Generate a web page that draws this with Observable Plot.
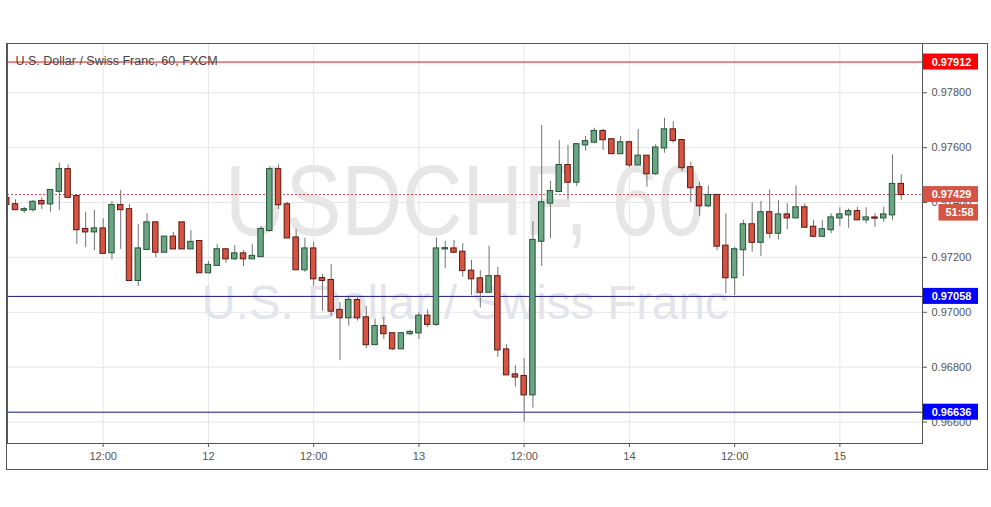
<!DOCTYPE html>
<html><head><meta charset="utf-8">
<script src="https://cdn.jsdelivr.net/npm/d3@7"></script>
<script src="https://cdn.jsdelivr.net/npm/@observablehq/plot@0.6"></script>
<style>html,body{margin:0;padding:0;background:#fff;} #chart{width:991px;height:507px;}</style>
</head><body><div id="chart"></div>
<script>
// hour slots, counted from 00:00 on day 11 (hourly candles, 60-minute chart)
const hours = [1,2,3,4,5,6,7,8,9,10,11,12,13,14,15,16,17,18,19,20,21,22,23,24,25,26,27,28,29,30,
31,32,33,34,35,36,37,38,39,40,41,42,43,44,45,46,47,48,49,50,51,52,53,54,55,56,57,58,59,60,
61,62,63,64,65,66,67,68,69,70,71,72,73,74,75,76,77,78,79,80,81,82,83,84,85,86,87,88,89,90,
91,92,93,94,95,96,97,98,99,100,101,102,103];
const open = [0.97415,0.97392,0.97372,0.97374,0.97404,0.97395,0.97441,0.97520,0.97422,0.97302,
0.97293,0.97304,0.97217,0.97389,0.97374,0.97116,0.97229,0.97326,0.97219,0.97274,
0.97326,0.97231,0.97258,0.97144,0.97171,0.97228,0.97195,0.97213,0.97195,0.97203,
0.97298,0.97520,0.97392,0.97271,0.97155,0.97231,0.97123,0.97116,0.97007,0.96980,
0.97043,0.96980,0.96882,0.96948,0.96922,0.96867,0.96922,0.96925,0.96986,0.96956,
0.97231,0.97231,0.97219,0.97150,0.97122,0.97073,0.97130,0.96863,0.96772,0.96766,
0.96699,0.97259,0.97398,0.97440,0.97535,0.97474,0.97610,0.97620,0.97659,0.97629,
0.97578,0.97618,0.97537,0.97569,0.97505,0.97599,0.97665,0.97626,0.97527,0.97454,
0.97388,0.97426,0.97241,0.97126,0.97228,0.97319,0.97255,0.97363,0.97288,0.97355,
0.97344,0.97381,0.97310,0.97277,0.97301,0.97344,0.97355,0.97367,0.97337,0.97344,
0.97344,0.97355,0.97466];
const high = [0.97418,0.97410,0.97382,0.97407,0.97417,0.97446,0.97543,0.97537,0.97429,0.97365,
0.97371,0.97341,0.97404,0.97444,0.97393,0.97320,0.97359,0.97328,0.97276,0.97291,
0.97327,0.97298,0.97262,0.97185,0.97247,0.97229,0.97243,0.97225,0.97247,0.97313,
0.97531,0.97537,0.97401,0.97302,0.97270,0.97255,0.97138,0.97174,0.97035,0.97055,
0.97059,0.97021,0.96975,0.96982,0.96922,0.96923,0.96934,0.96998,0.97009,0.97271,
0.97259,0.97262,0.97250,0.97189,0.97152,0.97241,0.97164,0.96882,0.96806,0.96831,
0.97331,0.97681,0.97477,0.97626,0.97608,0.97613,0.97641,0.97671,0.97666,0.97630,
0.97641,0.97623,0.97666,0.97570,0.97611,0.97707,0.97695,0.97627,0.97547,0.97474,
0.97460,0.97427,0.97359,0.97236,0.97335,0.97399,0.97404,0.97446,0.97407,0.97395,
0.97460,0.97395,0.97335,0.97335,0.97359,0.97381,0.97377,0.97383,0.97381,0.97359,
0.97383,0.97574,0.97501];
const low = [0.97389,0.97371,0.97360,0.97365,0.97374,0.97365,0.97371,0.97414,0.97247,0.97235,
0.97225,0.97211,0.97191,0.97229,0.97113,0.97094,0.97225,0.97199,0.97218,0.97230,
0.97230,0.97230,0.97143,0.97143,0.97171,0.97178,0.97189,0.97167,0.97194,0.97201,
0.97292,0.97375,0.97270,0.97152,0.97146,0.97095,0.97004,0.96985,0.96824,0.96949,
0.96968,0.96867,0.96881,0.96901,0.96861,0.96866,0.96915,0.96901,0.96944,0.96949,
0.97159,0.97213,0.97128,0.97061,0.97016,0.97072,0.96836,0.96771,0.96727,0.96600,
0.96651,0.97167,0.97268,0.97438,0.97410,0.97458,0.97587,0.97614,0.97590,0.97577,
0.97577,0.97527,0.97535,0.97456,0.97498,0.97580,0.97616,0.97511,0.97401,0.97350,
0.97382,0.97225,0.97067,0.97061,0.97130,0.97219,0.97203,0.97268,0.97264,0.97302,
0.97343,0.97309,0.97271,0.97276,0.97286,0.97313,0.97306,0.97335,0.97322,0.97310,
0.97328,0.97335,0.97407];
const close = [0.97393,0.97374,0.97374,0.97401,0.97395,0.97444,0.97520,0.97419,0.97301,0.97293,
0.97304,0.97215,0.97389,0.97374,0.97116,0.97231,0.97326,0.97219,0.97274,0.97231,
0.97231,0.97255,0.97144,0.97171,0.97228,0.97195,0.97213,0.97195,0.97204,0.97302,
0.97520,0.97392,0.97271,0.97155,0.97231,0.97122,0.97116,0.97004,0.96980,0.97043,
0.96980,0.96882,0.96948,0.96922,0.96867,0.96922,0.96927,0.96986,0.96956,0.97231,
0.97232,0.97219,0.97152,0.97122,0.97073,0.97130,0.96863,0.96772,0.96764,0.96699,
0.97262,0.97399,0.97440,0.97535,0.97474,0.97611,0.97622,0.97659,0.97629,0.97578,
0.97618,0.97537,0.97569,0.97505,0.97599,0.97665,0.97626,0.97527,0.97454,0.97388,
0.97426,0.97241,0.97126,0.97228,0.97319,0.97255,0.97363,0.97288,0.97355,0.97344,
0.97381,0.97310,0.97277,0.97301,0.97344,0.97355,0.97367,0.97337,0.97344,0.97343,
0.97355,0.97466,0.97429];

const xTicks = [12,24,36,48,60,72,84,96];
const xTickLabels = ["12:00","12","12:00","13","12:00","14","12:00","15"];
const yTicks = [0.966,0.968,0.970,0.972,0.974,0.976,0.978];

const levelPrices = [0.97912, 0.97058, 0.96636];
const levelLineColors = ["#d41a1a", "#16167c", "#16167c"];
const levelBoxColors = ["#ff0000", "#0000ff", "#0000ff"];
const lastPrice = 0.97429;
const countdown = "51:58";
const title = "U.S. Dollar / Swiss Franc, 60, FXCM";
const watermark1 = "USDCHF, 60";
const watermark2 = "U.S. Dollar / Swiss Franc";

const candles = hours.map((h, i) => ({h, o: open[i], hi: high[i], lo: low[i], c: close[i]}));
const XMIN = 1.09, XMAX = 105.42;
const UP = "#6ba583", DOWN = "#d75442", UPB = "#225437", DOWNB = "#5b1a13", WICK = "#737375";
const HALF = 0.31;
const fmt = d3.format(".5f");

const levelMarks = levelPrices.map((p, i) => Plot.ruleY([p], {stroke: levelLineColors[i], strokeWidth: 1}));
const labelMarks = levelPrices.flatMap((p, i) => [
  Plot.rect([p], {x1: () => XMAX, x2: () => XMAX, y1: d => d, y2: d => d, fill: levelBoxColors[i],
    insetLeft: 1, insetRight: -56, insetTop: -8, insetBottom: -8}),
  Plot.text([p], {x: () => XMAX, y: d => d, text: d => fmt(d), dx: 29, fill: "white",
    fontWeight: "bold", fontSize: 11, textAnchor: "middle", lineAnchor: "middle"})
]);

const chart = Plot.plot({
  width: 991, height: 507,
  marginLeft: 7, marginRight: 69, marginTop: 43, marginBottom: 64,
  style: {fontFamily: "'Liberation Sans', Arial, sans-serif", fontSize: "11px", color: "#555", background: "white", overflow: "visible"},
  x: {type: "linear", domain: [XMIN, XMAX], axis: "bottom", ticks: xTicks,
      tickFormat: d => xTickLabels[xTicks.indexOf(d)], tickSize: 4, tickPadding: 5, label: null},
  y: {type: "linear", domain: [0.965219, 0.979796], axis: "right", ticks: yTicks,
      tickFormat: fmt, tickSize: 4, tickPadding: 5, label: null},
  marks: [
    Plot.ruleX(xTicks, {stroke: "#e6e6e6"}),
    Plot.ruleY(yTicks, {stroke: "#e6e6e6"}),
    Plot.text([watermark1], {text: d => d, frameAnchor: "top", lineAnchor: "middle", dy: 159, fontSize: 100,
      fill: "#e6e6e6", textAnchor: "middle"}),
    Plot.text([watermark2], {text: d => d, frameAnchor: "top", lineAnchor: "middle", dy: 260.5, fontSize: 48,
      fill: "#e3e4ec", textAnchor: "middle"}),
    ...levelMarks,
    Plot.ruleY([lastPrice], {stroke: "#c0503f", strokeDasharray: "2,2"}),
    Plot.ruleX(candles, {x: "h", y1: "lo", y2: "hi", stroke: WICK, clip: true}),
    Plot.rect(candles, {x1: d => d.h - HALF, x2: d => d.h + HALF, y1: "o", y2: "c",
      fill: d => d.c >= d.o ? UP : DOWN, stroke: d => d.c >= d.o ? UPB : DOWNB,
      strokeWidth: 1, insetTop: -0.5, insetBottom: -0.5, clip: true}),
    Plot.text([title], {text: d => d, frameAnchor: "top-left", lineAnchor: "middle", dx: 8, dy: 17, fontSize: 12.5,
      fill: "#454545", textAnchor: "start"}),
    Plot.frame({stroke: "#555", shapeRendering: "crispEdges"}),
    ...labelMarks,
    Plot.rect([lastPrice], {x1: () => XMAX, x2: () => XMAX, y1: d => d, y2: d => d, fill: "#d75442",
      insetLeft: 1, insetRight: -56, insetTop: -8, insetBottom: -8}),
    Plot.text([lastPrice], {x: () => XMAX, y: d => d, text: d => fmt(d), dx: 29, fill: "white",
      fontWeight: "bold", fontSize: 11, textAnchor: "middle", lineAnchor: "middle"}),
    Plot.rect([lastPrice], {x1: () => XMAX, x2: () => XMAX, y1: d => d, y2: d => d, fill: "#d75442",
      insetLeft: 16.5, insetRight: -56, insetTop: 10, insetBottom: -26.5}),
    Plot.text([countdown], {x: () => XMAX, y: () => lastPrice, text: d => d, dx: 37, dy: 18, fill: "white",
      fontWeight: "bold", fontSize: 11, textAnchor: "middle", lineAnchor: "middle"})
  ]
});

const svg = d3.select(chart);
svg.selectAll("text").filter(function() { return this.textContent === watermark1; })
  .attr("textLength", 480).attr("lengthAdjust", "spacingAndGlyphs");
svg.selectAll("text").filter(function() { return this.textContent === watermark2; })
  .attr("textLength", 527).attr("lengthAdjust", "spacingAndGlyphs");
svg.append("rect").attr("x", 6.5).attr("y", 43.5).attr("width", 981).attr("height", 426)
  .attr("fill", "none").attr("stroke", "#555");
document.getElementById("chart").appendChild(chart);
</script>
</body></html>
